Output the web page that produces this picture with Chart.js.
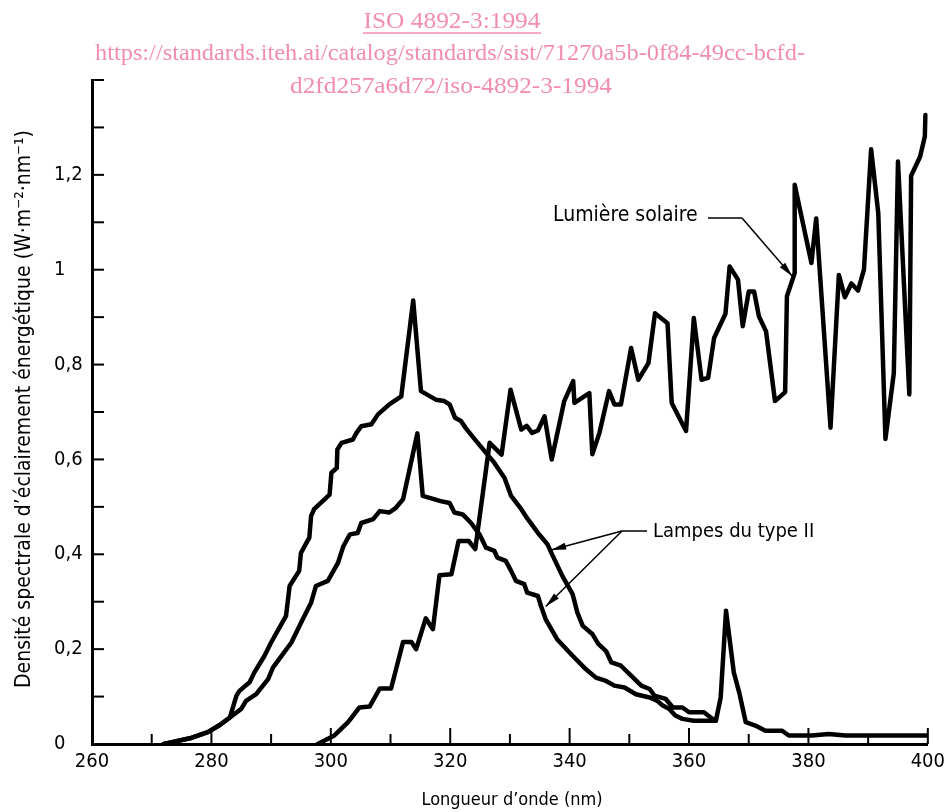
<!DOCTYPE html>
<html>
<head>
<meta charset="utf-8">
<script src="https://cdn.jsdelivr.net/npm/chart.js@4/dist/chart.umd.min.js"></script>
<style>
  html, body { margin: 0; padding: 0; background: #fff; }
  #wrap { width: 951px; height: 812px; }
</style>
</head>
<body>
<div id="wrap"><canvas id="spectre" width="951" height="812"></canvas></div>
<script>
// wavelengths (nm) / spectral irradiance (W.m-2.nm-1)

// lamp type II, upper curve
var lampeAX = [272.0, 273.4, 276.4, 279.4, 281.4, 283.1, 284.2, 284.7, 286.4, 287.2, 288.9, 290.0, 292.5, 293.1, 294.7, 295.0, 296.4, 296.7, 297.2, 299.8,
               300.1, 301.0, 301.1, 301.8, 303.7, 304.3, 305.1, 306.8, 307.9, 309.8, 311.8, 313.8, 315.1, 317.6, 319.0, 319.9, 320.8, 321.8, 322.6, 324.6,
               327.2, 329.1, 330.2, 331.9, 333.0, 334.7, 336.3, 336.9, 338.8, 340.5, 341.3, 342.2, 343.8, 344.8, 346.1, 347.0, 348.6, 350.3, 352.0, 353.4,
               354.2, 356.1, 357.3, 358.9, 360.0, 362.5, 363.9, 364.5, 365.3, 366.2, 367.5, 368.4, 369.5, 371.1, 372.8, 375.6, 376.7, 380.6, 383.4, 386.2, 400];
var lampeAY = [0, 0.004, 0.012, 0.025, 0.04, 0.056, 0.102, 0.112, 0.13, 0.151, 0.186, 0.214, 0.27, 0.333, 0.365, 0.403, 0.435, 0.481, 0.495, 0.526,
               0.572, 0.582, 0.621, 0.635, 0.642, 0.656, 0.670, 0.674, 0.695, 0.716, 0.733, 0.935, 0.744, 0.726, 0.723, 0.716, 0.688, 0.681, 0.666, 0.635,
               0.596, 0.561, 0.523, 0.495, 0.474, 0.445, 0.421, 0.404, 0.354, 0.316, 0.277, 0.249, 0.232, 0.211, 0.196, 0.172, 0.165, 0.144, 0.123, 0.116,
               0.102, 0.095, 0.077, 0.077, 0.067, 0.067, 0.053, 0.049, 0.098, 0.281, 0.151, 0.109, 0.046, 0.039, 0.028, 0.028, 0.018, 0.018, 0.021, 0.018, 0.018];

// lamp type II, lower curve
var lampeBX = [272.0, 273.4, 276.4, 279.4, 281.4, 283.1, 285.0, 285.8, 287.5, 289.5, 290.3, 293.4, 295.3, 296.7, 297.5, 299.5, 301.2, 302.1, 303.2, 304.5,
               305.1, 307.1, 308.2, 309.8, 310.9, 312.1, 314.5, 315.4, 318.4, 319.9, 320.7, 322.1, 323.5, 324.9, 326.0, 327.4, 327.9, 329.3, 330.2, 331.0,
               332.4, 332.9, 334.7, 335.2, 336.0, 337.9, 340.5, 342.7, 344.4, 346.1, 347.5, 349.2, 351.1, 353.4, 354.7, 355.6, 356.7, 357.7, 358.9, 360.8,
               363.9, 364.5];
var lampeBY = [0, 0.004, 0.012, 0.025, 0.04, 0.056, 0.074, 0.091, 0.105, 0.137, 0.161, 0.214, 0.263, 0.298, 0.333, 0.344, 0.382, 0.417, 0.442, 0.445,
               0.466, 0.474, 0.491, 0.488, 0.498, 0.516, 0.655, 0.523, 0.512, 0.508, 0.488, 0.484, 0.466, 0.442, 0.414, 0.407, 0.393, 0.386, 0.365, 0.344,
               0.337, 0.319, 0.312, 0.291, 0.263, 0.221, 0.186, 0.158, 0.14, 0.133, 0.123, 0.119, 0.105, 0.098, 0.091, 0.081, 0.074, 0.06, 0.053, 0.049,
               0.049, 0.049];

// sunlight
var soleilX = [297.8, 300.6, 302.9, 304.8, 306.5, 308.2, 310.1, 312.1, 313.5, 314.3, 315.9, 317.1, 318.2, 320.2, 321.4, 323.1, 324.2, 326.6, 328.6, 330.1,
               331.9, 332.8, 333.7, 334.7, 335.8, 337.0, 339.1, 340.6, 340.8, 343.3, 343.8, 345.0, 346.6, 347.5, 348.6, 350.3, 351.5, 353.2, 354.3, 356.4,
               357.1, 359.5, 360.8, 362.1, 363.2, 364.2, 366.1, 366.8, 368.2, 369.0, 370.0, 370.9, 371.7, 372.9, 374.4, 376.1, 376.4, 377.7, 377.7, 380.5,
               381.3, 383.7, 385.1, 386.1, 387.2, 388.3, 389.3, 390.5, 391.7, 392.9, 394.3, 395.0, 396.9, 397.2, 398.7, 399.5, 399.6];
var soleilY = [0, 0.018, 0.046, 0.077, 0.079, 0.117, 0.117, 0.215, 0.215, 0.2, 0.265, 0.242, 0.356, 0.358, 0.428, 0.428, 0.411, 0.635, 0.61, 0.747,
               0.663, 0.671, 0.656, 0.661, 0.691, 0.6, 0.723, 0.765, 0.719, 0.74, 0.611, 0.656, 0.744, 0.716, 0.716, 0.835, 0.768, 0.803, 0.908, 0.887,
               0.719, 0.66, 0.898, 0.768, 0.772, 0.856, 0.907, 1.007, 0.979, 0.881, 0.954, 0.954, 0.902, 0.87, 0.723, 0.742, 0.944, 0.993, 1.179, 1.014,
               1.108, 0.667, 0.989, 0.942, 0.971, 0.956, 1.0, 1.254, 1.119, 0.643, 0.782, 1.228, 0.737, 1.198, 1.238, 1.281, 1.326];

// axis ticks
var xTicks = [260, 280, 300, 320, 340, 360, 380, 400];
var yTicks = [0, 0.2, 0.4, 0.6, 0.8, 1, 1.2];

var FONT = "'DejaVu Sans Condensed', 'Liberation Sans Narrow', 'DejaVu Sans', sans-serif";
var PINK = '#f28cb2';

function points(xs, ys) {
    var out = [];
    for (var i = 0; i < xs.length; i++) {
        out.push({x: xs[i], y: ys[i]});
    }
    return out;
}

function courbe(label, xs, ys) {
    return {
        label: label,
        data: points(xs, ys),
        borderColor: '#000',
        borderWidth: 4.5,
        borderJoinStyle: 'round',
        borderCapStyle: 'round',
        pointRadius: 0,
        tension: 0,
        fill: false
    };
}

function fleche(ctx, x0, y0, x1, y1) {
    ctx.beginPath();
    ctx.moveTo(x0, y0);
    ctx.lineTo(x1, y1);
    ctx.stroke();
    var a = Math.atan2(y1 - y0, x1 - x0);
    var L = 15, W = 3.5;
    ctx.beginPath();
    ctx.moveTo(x1, y1);
    ctx.lineTo(x1 - L * Math.cos(a) + W * Math.sin(a), y1 - L * Math.sin(a) - W * Math.cos(a));
    ctx.lineTo(x1 - L * Math.cos(a) - W * Math.sin(a), y1 - L * Math.sin(a) + W * Math.cos(a));
    ctx.closePath();
    ctx.fill();
}

function texteLargeur(ctx, txt, cx, y, w) {
    // centred text squeezed to a given width
    var m = ctx.measureText(txt).width;
    ctx.save();
    ctx.translate(cx, y);
    ctx.scale(w / m, 1);
    ctx.fillText(txt, -m / 2, 0);
    ctx.restore();
}

var decor = {
    id: 'decor',
    afterDraw: function(chart) {
        var ctx = chart.ctx;
        var xs = chart.scales.x, ys = chart.scales.y;
        ctx.save();

        // inside ticks
        ctx.strokeStyle = '#000';
        ctx.fillStyle = '#000';
        ctx.lineWidth = 2;
        for (var k = 1; k <= 14; k++) {
            var py = ys.getPixelForValue(k / 10);
            ctx.beginPath();
            ctx.moveTo(xs.left, py);
            ctx.lineTo(xs.left + 12, py);
            ctx.stroke();
        }
        for (var w = 270; w <= 400; w += 10) {
            var px = xs.getPixelForValue(w);
            var len = (w % 20 == 0) ? 16 : 10;
            ctx.beginPath();
            ctx.moveTo(px, ys.bottom);
            ctx.lineTo(px, ys.bottom - len);
            ctx.stroke();
        }

        // axis titles
        ctx.textAlign = 'center';
        ctx.textBaseline = 'middle';
        ctx.font = '18px ' + FONT;
        ctx.fillText("Longueur d\u2019onde (nm)", 512, 800);
        ctx.font = '21px ' + FONT;
        ctx.save();
        ctx.translate(25, 409);
        ctx.rotate(-Math.PI / 2);
        ctx.fillText("Densit\u00e9 spectrale d\u2019\u00e9clairement \u00e9nerg\u00e9tique (W\u00b7m\u207b\u00b2\u00b7nm\u207b\u00b9)", 0, 0);
        ctx.restore();

        // annotations
        ctx.textAlign = 'left';
        ctx.font = '21px ' + FONT;
        ctx.fillText('Lumi\u00e8re solaire', 553, 216);
        ctx.font = '20px ' + FONT;
        ctx.fillText('Lampes du type II', 653, 532);

        ctx.lineWidth = 1.5;
        ctx.beginPath();
        ctx.moveTo(708, 218);
        ctx.lineTo(742, 218);
        ctx.stroke();
        fleche(ctx, 742, 218, xs.getPixelForValue(377.3), ys.getPixelForValue(0.986));

        ctx.beginPath();
        ctx.moveTo(647, 531);
        ctx.lineTo(622, 531);
        ctx.stroke();
        fleche(ctx, 622, 531, xs.getPixelForValue(336.9), ys.getPixelForValue(0.409));
        fleche(ctx, 622, 531, xs.getPixelForValue(336.0), ys.getPixelForValue(0.29));

        // pink header
        ctx.fillStyle = PINK;
        ctx.strokeStyle = PINK;
        ctx.font = "24px 'Liberation Serif', 'Times New Roman', serif";
        ctx.textAlign = 'left';
        ctx.textBaseline = 'alphabetic';
        texteLargeur(ctx, 'ISO 4892-3:1994', 452, 28, 177);
        ctx.lineWidth = 1.5;
        ctx.beginPath();
        ctx.moveTo(363, 33);
        ctx.lineTo(541, 33);
        ctx.stroke();
        texteLargeur(ctx, 'https://standards.iteh.ai/catalog/standards/sist/71270a5b-0f84-49cc-bcfd-', 450, 60, 710);
        texteLargeur(ctx, 'd2fd257a6d72/iso-4892-3-1994', 451, 93, 322);

        ctx.restore();
    }
};

new Chart(document.getElementById('spectre'), {
    type: 'line',
    data: {
        datasets: [
            courbe('Lampes du type II', lampeAX, lampeAY),
            courbe('Lampes du type II', lampeBX, lampeBY),
            courbe('Lumi\u00e8re solaire', soleilX, soleilY)
        ]
    },
    options: {
        responsive: false,
        animation: false,
        devicePixelRatio: 1,
        layout: { padding: { left: 54, right: 21, top: 80, bottom: 0 } },
        plugins: {
            legend: { display: false },
            tooltip: { enabled: false }
        },
        scales: {
            x: {
                type: 'linear',
                min: 260,
                max: 400,
                afterBuildTicks: function(scale) {
                    scale.ticks = xTicks.map(function(v) { return {value: v}; });
                },
                afterFit: function(scale) { scale.height = 68; },
                ticks: {
                    color: '#000',
                    font: { family: FONT, size: 20 },
                    padding: 6,
                    maxRotation: 0,
                    autoSkip: false
                },
                grid: { display: true, drawOnChartArea: false, drawTicks: false },
                border: { display: true, color: '#000', width: 3 }
            },
            y: {
                type: 'linear',
                min: 0,
                max: 1.4,
                afterBuildTicks: function(scale) {
                    scale.ticks = yTicks.map(function(v) { return {value: v}; });
                },
                afterFit: function(scale) { scale.width = 38; },
                ticks: {
                    color: '#000',
                    font: { family: FONT, size: 20 },
                    crossAlign: 'far',
                    autoSkip: false,
                    callback: function(v) { return String(v).replace('.', ','); }
                },
                grid: { display: true, drawOnChartArea: false, drawTicks: false },
                border: { display: true, color: '#000', width: 3 }
            }
        }
    },
    plugins: [decor]
});
</script>
</body>
</html>
